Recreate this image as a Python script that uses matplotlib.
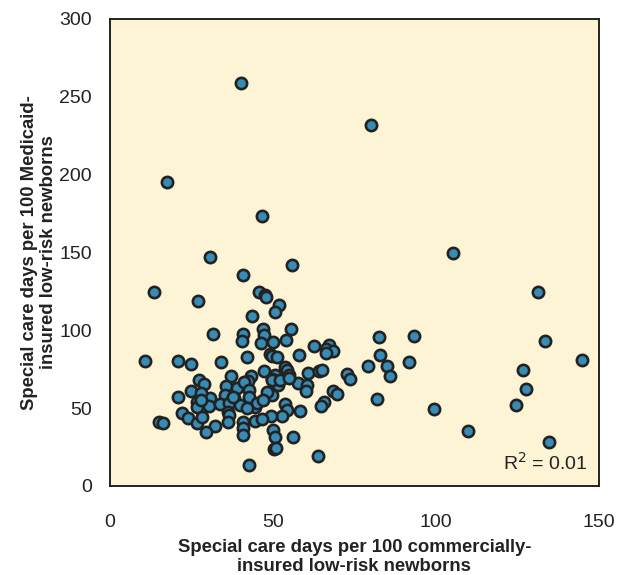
import matplotlib.pyplot as plt

# 商业保险新生儿 vs Medicaid 新生儿 的特殊护理天数（每100名）
commercial = [
    40.1, 80.0, 17.5, 46.5, 105.3, 30.6, 55.9, 40.7, 13.5, 131.2,
    27.1, 45.7, 47.5, 48.0, 51.9, 50.7, 43.5, 31.6, 47.0, 55.5,
    40.9, 40.6, 47.3, 46.3, 49.9, 53.9, 62.6, 67.2, 66.2, 68.5,
    66.2, 58.0, 49.2, 49.7, 51.2, 41.9, 10.7, 20.9, 24.8, 34.2,
    82.6, 93.2, 133.6, 144.8, 83.0, 79.1, 85.0, 86.0, 91.7, 126.8,
    127.8, 124.7, 81.8, 99.3, 109.9, 134.7, 72.8, 73.6, 47.4, 53.7,
    54.2, 54.8, 60.9, 64.1, 65.1, 50.6, 51.1, 51.7, 49.7, 57.7,
    60.3, 60.1, 68.5, 69.8, 65.7, 64.6, 58.4, 53.7, 54.4, 52.8,
    49.4, 48.4, 49.6, 43.2, 42.2, 37.2, 35.5, 39.1, 41.1, 42.6,
    42.7, 38.0, 35.3, 30.6, 27.2, 28.9, 25.0, 28.0, 21.0, 26.8,
    26.6, 30.4, 33.7, 36.6, 39.9, 44.5, 45.2, 36.2, 36.6, 36.3,
    22.0, 23.8, 26.6, 28.2, 32.2, 29.5, 14.9, 16.3, 40.9, 40.9,
    40.9, 44.5, 46.5, 50.1, 50.7, 50.4, 51.0, 56.2, 63.9, 42.5,
    27.9, 37.8, 48.2, 49.6, 52.3, 55.0, 47.1, 42.0,
]
medicaid = [
    258.6, 231.7, 195.5, 173.4, 149.4, 146.9, 142.2, 135.5, 124.8, 124.6,
    119.0, 124.6, 122.7, 121.5, 116.5, 111.8, 109.2, 97.6, 100.6, 100.6,
    97.4, 93.0, 97.0, 92.0, 92.5, 93.5, 89.9, 90.6, 88.0, 86.9,
    85.2, 84.3, 85.0, 83.5, 83.0, 82.7, 80.4, 80.0, 78.2, 79.8,
    95.9, 96.3, 92.9, 81.1, 83.9, 77.3, 77.1, 70.8, 79.6, 74.3,
    62.1, 52.2, 56.1, 49.5, 35.3, 28.1, 71.9, 68.5, 73.6, 76.2,
    74.5, 71.1, 72.8, 73.6, 74.5, 71.1, 67.6, 64.9, 68.5, 66.0,
    64.5, 60.8, 61.1, 59.1, 54.1, 51.2, 48.0, 52.8, 48.8, 45.2,
    45.1, 59.5, 58.4, 70.6, 67.2, 70.6, 64.4, 63.1, 67.0, 61.7,
    57.4, 56.3, 58.4, 56.3, 68.3, 65.5, 61.1, 59.5, 56.8, 54.1,
    50.5, 51.4, 52.6, 53.0, 52.0, 50.5, 53.1, 47.3, 45.4, 40.9,
    47.1, 43.7, 40.4, 44.0, 38.6, 34.5, 41.3, 40.3, 40.8, 37.0,
    33.0, 41.8, 43.2, 36.0, 31.2, 23.8, 24.5, 31.2, 19.3, 13.4,
    55.2, 57.4, 60.2, 68.1, 68.1, 69.2, 55.0, 50.0,
]
x_ticks = [0, 50, 100, 150]
y_ticks = [0, 50, 100, 150, 200, 250, 300]

plt.rcParams['font.family'] = ['Liberation Sans', 'DejaVu Sans']

fig = plt.figure(figsize=(6.18, 5.75), dpi=100)
ax = fig.add_axes([0.178, 0.155, 0.791, 0.812])
ax.set_facecolor('#fdf4d5')

ax.scatter(commercial, medicaid, s=66, c='#368cb5', edgecolors='#222222',
           linewidths=1.9, zorder=3, clip_on=False)

ax.set_xlim(0, 150)
ax.set_ylim(0, 300)
ax.set_xticks(x_ticks)
ax.set_yticks(y_ticks)
ax.tick_params(axis='both', length=0, labelsize=14, colors='#222222')
ax.tick_params(axis='x', pad=20)
ax.tick_params(axis='y', pad=13)

for s in ax.spines.values():
    s.set_color('#222222')
    s.set_linewidth(1.4)

ax.set_xlabel('Special care days per 100 commercially-\ninsured low-risk newborns',
              fontsize=13.3, fontweight='bold', color='#222222', labelpad=6,
              linespacing=1.12)
ax.set_ylabel('Special care days per 100 Medicaid-\ninsured low-risk newborns',
              fontsize=13.3, fontweight='bold', color='#222222', labelpad=2,
              linespacing=1.12)

ax.text(0.977, 0.025, 'R$^2$ = 0.01', transform=ax.transAxes, ha='right',
        va='bottom', fontsize=14, color='#222222')

fig.savefig('out.png', dpi=100)
